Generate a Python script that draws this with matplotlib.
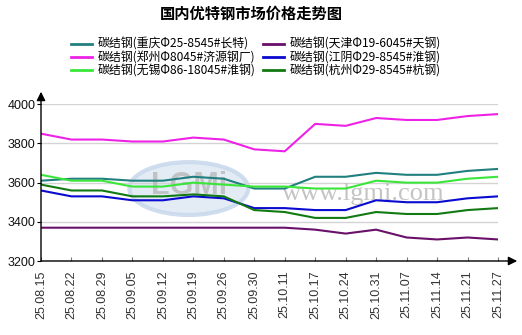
import matplotlib
matplotlib.use("Agg")
import matplotlib.pyplot as plt
from matplotlib.patches import Ellipse

plt.rcParams['font.family'] = ['Liberation Sans', 'Noto Sans CJK SC', 'DejaVu Sans']

dates = ["25.08.15", "25.08.22", "25.08.29", "25.09.05", "25.09.12", "25.09.19",
         "25.09.26", "25.09.30", "25.10.11", "25.10.17", "25.10.24", "25.10.31",
         "25.11.07", "25.11.14", "25.11.21", "25.11.27"]

chongqing = [3610, 3620, 3620, 3610, 3610, 3630, 3620, 3570, 3570, 3630, 3630, 3650, 3640, 3640, 3660, 3670]
zhengzhou = [3850, 3820, 3820, 3810, 3810, 3830, 3820, 3770, 3760, 3900, 3890, 3930, 3920, 3920, 3940, 3950]
wuxi      = [3640, 3610, 3610, 3580, 3580, 3600, 3590, 3580, 3580, 3570, 3570, 3610, 3600, 3600, 3620, 3630]
tianjin   = [3370, 3370, 3370, 3370, 3370, 3370, 3370, 3370, 3370, 3360, 3340, 3360, 3320, 3310, 3320, 3310]
jiangyin  = [3560, 3530, 3530, 3510, 3510, 3530, 3520, 3470, 3470, 3460, 3460, 3510, 3500, 3500, 3520, 3530]
hangzhou  = [3590, 3560, 3560, 3530, 3530, 3540, 3530, 3460, 3450, 3420, 3420, 3450, 3440, 3440, 3460, 3470]

series_names = ["碳结钢(重庆Φ25-8545#长特)", "碳结钢(郑州Φ8045#济源钢厂)", "碳结钢(无锡Φ86-18045#淮钢)",
                "碳结钢(天津Φ19-6045#天钢)", "碳结钢(江阴Φ29-8545#淮钢)", "碳结钢(杭州Φ29-8545#杭钢)"]
series_values = [chongqing, zhengzhou, wuxi, tianjin, jiangyin, hangzhou]
series_colors = ["#21807f", "#ee22e6", "#3ae63a", "#6a0f6a", "#0a0ad0", "#127a12"]

yticks = [3200, 3400, 3600, 3800, 4000]
title = "国内优特钢市场价格走势图"

W, H = 522, 335
fig = plt.figure(figsize=(W / 100, H / 100), dpi=100)
ax_l, ax_r, ax_b, ax_t = 41, 498, 261, 104.3
ax = fig.add_axes([ax_l / W, (H - ax_b) / H, (ax_r - ax_l) / W, (ax_b - ax_t) / H])

# watermark
ax.add_patch(Ellipse((4.85, 3570), 3.9, 270, facecolor="#dfe8f4", edgecolor="#c8d8ec",
                     lw=3, zorder=0.5, alpha=0.85))
ax.text(4.85, 3585, "LGMi", fontsize=22, fontweight="bold", color="#b8b8b8",
        ha="center", va="center", zorder=0.6, alpha=0.8)
ax.text(7.9, 3540, "www.lgmi.com", family="Liberation Serif", fontsize=19,
        color="#c4c4c4", ha="left", va="center", zorder=0.6)

x = list(range(len(dates)))
for name, vals, col in zip(series_names, series_values, series_colors):
    ax.plot(x, vals, color=col, lw=1.5, label=name, zorder=3, solid_joinstyle="round")

ax.set_xlim(0, len(dates) - 1)
ax.set_ylim(3200, 4000)
ax.set_yticks(yticks)
ax.set_yticklabels([str(v) for v in yticks], fontsize=9, color="#111111")
ax.set_xticks(x)
ax.set_xticklabels(dates, rotation=90, fontsize=9, color="#333333")
ax.tick_params(axis="y", length=3, width=0.8, direction="out", pad=1)
ax.tick_params(axis="x", length=3, width=0.8, direction="in", pad=7, colors="#777777",
               labelcolor="#333333")
for s in ax.spines.values():
    s.set_visible(False)
ax.grid(axis="y", color="#d4d4d4", lw=1)
ax.set_axisbelow(True)

# axis lines with arrows
ax.annotate("", xy=(1.042, 0), xytext=(0, 0), xycoords="axes fraction",
            arrowprops=dict(arrowstyle="-|>", color="black", lw=1, mutation_scale=13,
                            shrinkA=0, shrinkB=0), annotation_clip=False)
ax.annotate("", xy=(0, 1.08), xytext=(0, 0), xycoords="axes fraction",
            arrowprops=dict(arrowstyle="-|>", color="black", lw=1, mutation_scale=13,
                            shrinkA=0, shrinkB=0), annotation_clip=False)

fig.text(251 / W, 1 - 14 / H, title, ha="center", va="center", fontsize=11,
         fontweight="bold", family=["Noto Sans CJK SC", "DejaVu Sans"])

leg = fig.legend(loc="upper left", bbox_to_anchor=(65 / W, 1 - 32 / H), ncol=2,
                 frameon=False, borderpad=0, handlelength=1.75, handletextpad=0.45,
                 columnspacing=0.7, labelspacing=0.0,
                 prop={"family": ["Noto Sans CJK SC", "DejaVu Sans"], "size": 8.6})
for line in leg.get_lines():
    line.set_linewidth(2)

fig.savefig("out.png", dpi=100)
